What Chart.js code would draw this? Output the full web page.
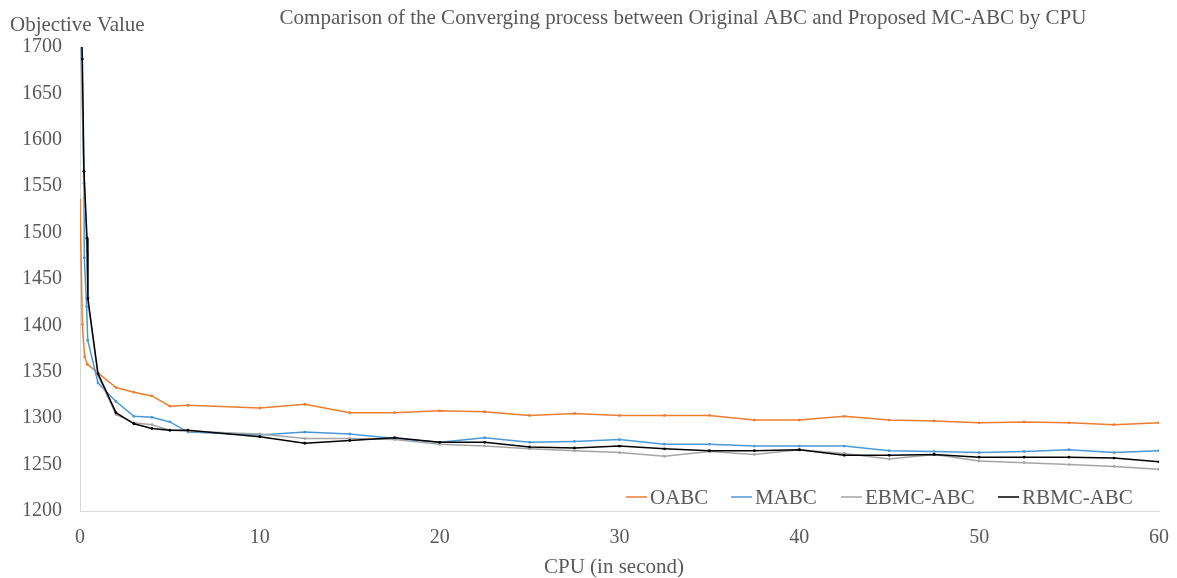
<!DOCTYPE html>
<html>
<head>
<meta charset="utf-8">
<script src="https://cdn.jsdelivr.net/npm/chart.js@4"></script>
<style>
html,body{margin:0;padding:0;background:#fff;}
#wrap{width:1177px;height:578px;position:relative;}
</style>
</head>
<body>
<div id="wrap"><canvas id="c" width="1177" height="578"></canvas></div>
<script>
const titleText = 'Comparison of the Converging process between Original ABC and Proposed MC-ABC by CPU';
const yTitle = 'Objective Value';
const xTitle = 'CPU (in second)';
const seriesNames = ['OABC', 'MABC', 'EBMC-ABC', 'RBMC-ABC'];

const oabcX = [0, 0.13, 0.26, 0.41, 2, 3, 4, 5, 6, 10, 12.5, 15, 17.5, 20, 22.5, 25, 27.5, 30, 32.5, 35, 37.5, 40, 42.5, 45, 47.5, 50, 52.5, 55, 57.5, 60];
const oabcY = [1535, 1401, 1366, 1358, 1333, 1328, 1324, 1313, 1314, 1311, 1315, 1306, 1306, 1308, 1307, 1303, 1305, 1303, 1303, 1303, 1298, 1298, 1302, 1298, 1297, 1295, 1296, 1295, 1293, 1295];

const mabcX = [0, 0.22, 0.24, 0.37, 0.43, 1, 2, 3, 4, 5, 6, 10, 12.5, 15, 17.5, 20, 22.5, 25, 27.5, 30, 32.5, 35, 37.5, 40, 42.5, 45, 47.5, 50, 52.5, 55, 57.5, 60];
const mabcY = [1760, 1553, 1473, 1420, 1384, 1338, 1318, 1302, 1301, 1296, 1285, 1282, 1285, 1283, 1278, 1274, 1279, 1274, 1275, 1277, 1272, 1272, 1270, 1270, 1270, 1265, 1264, 1263, 1264, 1266, 1263, 1265];

const bmcX = [0, 0.13, 0.22, 0.39, 0.44, 1, 2, 3, 4, 5, 6, 10, 12.5, 15, 17.5, 20, 22.5, 25, 27.5, 30, 32.5, 35, 37.5, 40, 42.5, 45, 47.5, 50, 52.5, 55, 57.5, 60];
const ebmcY = [1780, 1660, 1560, 1480, 1425, 1346, 1304, 1295, 1293, 1287, 1286, 1283, 1278, 1278, 1277, 1272, 1270, 1267, 1265, 1263, 1259, 1264, 1261, 1266, 1262, 1256, 1261, 1254, 1252, 1250, 1248, 1245];
const rbmcY = [1800, 1687, 1566, 1494, 1429, 1348, 1306, 1294, 1289, 1287, 1287, 1280, 1273, 1276, 1279, 1274, 1274, 1269, 1268, 1270, 1267, 1265, 1265, 1266, 1260, 1260, 1261, 1258, 1258, 1258, 1257, 1253];

const xTicksMin = 0, xTicksMax = 60, xStep = 10;
const yTicksMin = 1200, yTicksMax = 1700, yStep = 50;

const colors = ['#ED7D31', '#4A98D8', '#A5A5A5', '#000000'];
const FONT = '"Liberation Serif", "Times New Roman", serif';
const TEXT = '#595959';

function pts(xs, ys){ return xs.map((x,i)=>({x:x, y:ys[i]})); }

const seriesData = [pts(oabcX,oabcY), pts(mabcX,mabcY), pts(bmcX,ebmcY), pts(bmcX,rbmcY)];
const orders = [3, 2, 1, 0];

const datasets = seriesNames.map((n,i)=>({
  label: n,
  data: seriesData[i],
  borderColor: colors[i],
  backgroundColor: colors[i],
  borderWidth: 1.5,
  pointRadius: 1.4,
  pointHoverRadius: 2,
  pointBorderWidth: 0,
  tension: 0,
  order: orders[i]
}));

const legendPos = [
  {line: 626, text: 650},
  {line: 731, text: 755},
  {line: 841, text: 865},
  {line: 998, text: 1022}
];

const textPlugin = {
  id: 'texts',
  afterDraw(chart){
    const ctx = chart.ctx;
    ctx.save();
    ctx.fillStyle = TEXT;
    ctx.textBaseline = 'middle';
    ctx.font = '21px ' + FONT;
    ctx.textAlign = 'left';
    ctx.fillText(yTitle, 10, 25);
    ctx.textAlign = 'center';
    ctx.fillText(titleText, 683, 18);
    ctx.fillText(xTitle, 614, 567);
    ctx.textAlign = 'left';
    chart.data.datasets.forEach((ds,i)=>{
      const p = legendPos[i];
      ctx.strokeStyle = ds.borderColor;
      ctx.lineWidth = 1.5;
      ctx.beginPath();
      ctx.moveTo(p.line, 497);
      ctx.lineTo(p.text - 3, 497);
      ctx.stroke();
      ctx.fillStyle = TEXT;
      ctx.fillText(ds.label, p.text, 498);
    });
    ctx.restore();
  }
};

new Chart(document.getElementById('c'), {
  type: 'line',
  data: { datasets: datasets },
  options: {
    responsive: false,
    animation: false,
    devicePixelRatio: 1,
    layout: { padding: { left: 0, top: 47, right: 18, bottom: 0 } },
    plugins: { legend: { display: false }, title: { display: false }, tooltip: { enabled: false } },
    scales: {
      x: {
        type: 'linear',
        min: xTicksMin, max: xTicksMax,
        ticks: { stepSize: xStep, color: TEXT, font: { family: FONT, size: 20 }, padding: 15, maxRotation: 0,
                 callback: v => String(v) },
        grid: { display: false, drawTicks: false },
        border: { display: true, color: '#D9D9D9', width: 1 },
        afterFit(scale){ scale.height = 67; scale.paddingLeft = 0; scale.paddingRight = 0; }
      },
      y: {
        type: 'linear',
        min: yTicksMin, max: yTicksMax,
        ticks: { stepSize: yStep, color: TEXT, font: { family: FONT, size: 20 }, padding: 18,
                 callback: v => String(v) },
        grid: { display: false, drawTicks: false },
        border: { display: true, color: '#D9D9D9', width: 1 },
        afterFit(scale){ scale.width = 80; scale.paddingTop = 0; scale.paddingBottom = 0; }
      }
    }
  },
  plugins: [textPlugin]
});
</script>
</body>
</html>
